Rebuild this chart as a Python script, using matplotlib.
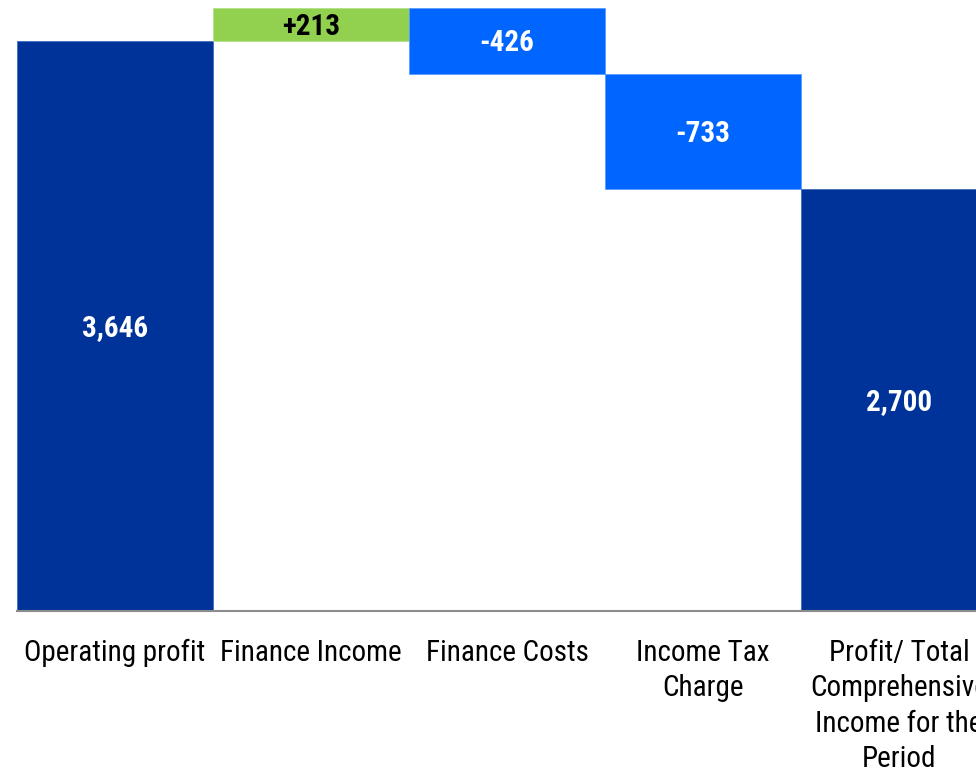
import matplotlib.pyplot as plt
import numpy as np

categories = ["Operating profit", "Finance Income", "Finance Costs",
              "Income Tax\nCharge", "Profit/ Total\nComprehensive\nIncome for the\nPeriod"]
values = [3646, 213, -426, -733, 2700]
is_total = [True, False, False, False, True]
labels = ["3,646", "+213", "-426", "-733", "2,700"]

NAVY = "#003399"
BLUE = "#0066FF"
GREEN = "#92D050"

plt.rcParams['font.family'] = ['Roboto Condensed', 'Liberation Sans', 'DejaVu Sans']
FS = 21
CAP = 0.711 * FS  # cap height in points

# waterfall bottoms / heights
bottoms, heights, colors, txtcol = [], [], [], []
running = 0
for v, tot in zip(values, is_total):
    if tot:
        bottoms.append(0)
        heights.append(v)
        colors.append(NAVY)
        txtcol.append("white")
        running = v
    else:
        if v >= 0:
            bottoms.append(running)
            heights.append(v)
            colors.append(GREEN)
            txtcol.append("black")
        else:
            bottoms.append(running + v)
            heights.append(-v)
            colors.append(BLUE)
            txtcol.append("white")
        running += v

fig = plt.figure(figsize=(9.76, 7.72), dpi=100)
ax = fig.add_axes([17 / 976, 161 / 772, 959 / 976, 611 / 772])

x = np.arange(len(values))
ax.bar(x, heights, bottom=bottoms, width=1.0, color=colors,
       edgecolor=["#3d6fc0", "#b5e08a", "#5a9bff", "#5a9bff", "#3d6fc0"], linewidth=0.6)

# value labels, caps centred in each bar
for xi, b, h, t, c in zip(x, bottoms, heights, labels, txtcol):
    ax.annotate(t, (xi, b + h / 2), xytext=(0, -CAP / 2), textcoords="offset points",
                ha="center", va="baseline", color=c, fontsize=FS, fontweight="bold")

# category labels under the axis, one line at a time
for xi, cat in zip(x, categories):
    for i, line in enumerate(cat.split("\n")):
        ax.annotate(line, (xi, 0), xytext=(0, -36 - 25.4 * i), textcoords="offset points",
                    ha="center", va="baseline", color="black", fontsize=FS,
                    annotation_clip=False)

ax.set_xlim(-0.5, 959 / 196 - 0.5)
ax.set_ylim(0, 3908)
ax.set_yticks([])
ax.set_xticks([])
for s in ["top", "right", "left"]:
    ax.spines[s].set_visible(False)
ax.spines["bottom"].set_color("#8c8c8c")
ax.spines["bottom"].set_linewidth(1.5)

fig.savefig("out.png", dpi=100)
